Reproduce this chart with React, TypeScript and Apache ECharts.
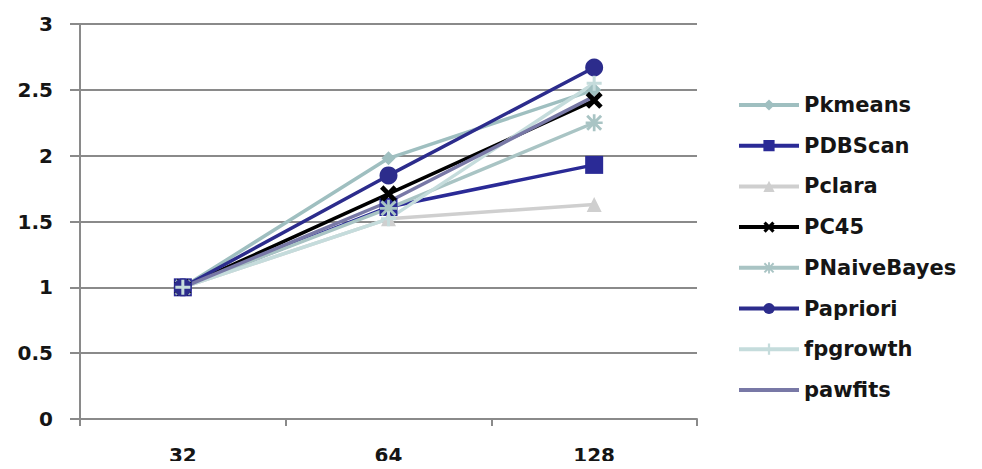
import React, { useEffect, useRef } from "react";
import * as echarts from "echarts";

const categories = ["32", "64", "128"];
const seriesNames = ["Pkmeans", "PDBScan", "Pclara", "PC45", "PNaiveBayes", "Papriori", "fpgrowth", "pawfits"];
const pkmeans = [1, 1.98, 2.5];
const pdbscan = [1, 1.61, 1.93];
const pclara = [1, 1.52, 1.63];
const pc45 = [1, 1.71, 2.42];
const pnaivebayes = [1, 1.6, 2.25];
const papriori = [1, 1.85, 2.67];
const fpgrowth = [1, 1.52, 2.55];
const pawfits = [1, 1.65, 2.45];
const yTicks = [0, 0.5, 1, 1.5, 2, 2.5, 3];

const X_PATH = "path://M2,0 L5,3 L8,0 L10,2 L7,5 L10,8 L8,10 L5,7 L2,10 L0,8 L3,5 L0,2 Z";
const PLUS_PATH = "path://M4,0H6V4H10V6H6V10H4V6H0V4H4Z";
const STAR_PATH =
  "path://M4.2,0H5.8V4.2H10V5.8H5.8V10H4.2V5.8H0V4.2H4.2Z M1.5,0.3 L5,3.8 L8.5,0.3 L9.7,1.5 L6.2,5 L9.7,8.5 L8.5,9.7 L5,6.2 L1.5,9.7 L0.3,8.5 L3.8,5 L0.3,1.5 Z";
const LINE_ICON = "path://M0,0H60V4H0Z";

const FONT = "DejaVu Sans";

export default function App() {
  const ref = useRef<HTMLDivElement>(null);
  useEffect(() => {
    if (!ref.current) return;
    const chart = echarts.init(ref.current, null, { renderer: "svg" });
    const mk = (name: string, data: number[], color: string, symbol: string, size: number, width = 3.5) => ({
      name,
      type: "line",
      data,
      symbol,
      symbolSize: size,
      showSymbol: symbol !== "none",
      lineStyle: { color, width },
      itemStyle: { color },
      z: 2,
    });
    chart.setOption({
      animation: false,
      backgroundColor: "#ffffff",
      textStyle: { fontFamily: FONT },
      grid: { left: 80, right: 285, top: 24, bottom: 50, containLabel: false },
      xAxis: {
        type: "category",
        data: categories,
        boundaryGap: true,
        axisLine: { show: true, lineStyle: { color: "#8a8a8a", width: 2 } },
        axisTick: { show: true, length: 7, lineStyle: { color: "#8a8a8a", width: 2 } },
        axisLabel: { color: "#151515", fontSize: 20, fontWeight: "bold", fontFamily: FONT, margin: 26 },
        splitLine: { show: false },
      },
      yAxis: {
        type: "value",
        min: yTicks[0],
        max: yTicks[yTicks.length - 1],
        interval: 0.5,
        axisLine: { show: true, lineStyle: { color: "#8a8a8a", width: 2 } },
        axisTick: { show: true, length: 10, lineStyle: { color: "#8a8a8a", width: 2 } },
        axisLabel: { color: "#151515", fontSize: 20, fontWeight: "bold", fontFamily: FONT, margin: 27 },
        splitLine: { show: true, lineStyle: { color: "#8a8a8a", width: 2 } },
      },
      legend: {
        orient: "vertical",
        left: 737,
        top: 94,
        padding: 0,
        itemWidth: 60,
        itemHeight: 14,
        itemGap: 18.7,
        lineStyle: { width: 4 },
        textStyle: { color: "#151515", fontSize: 21, fontWeight: "bold", lineHeight: 22, fontFamily: FONT, padding: [0, 0, 0, 0] },
        data: seriesNames.map((n, i) => (i === 7 ? { name: n, icon: LINE_ICON } : { name: n })),
      },
      series: [
        mk(seriesNames[0], pkmeans, "#9fbfc0", "diamond", 14),
        mk(seriesNames[1], pdbscan, "#2a2a96", "rect", 18),
        mk(seriesNames[2], pclara, "#cfcfcf", "triangle", 15),
        mk(seriesNames[3], pc45, "#000000", X_PATH, 17),
        mk(seriesNames[4], pnaivebayes, "#a9c4c4", STAR_PATH, 17),
        mk(seriesNames[5], papriori, "#2c2c8c", "circle", 18),
        mk(seriesNames[6], fpgrowth, "#c5dcdc", PLUS_PATH, 15),
        mk(seriesNames[7], pawfits, "#7878a6", "none", 0),
      ],
    });
    return () => chart.dispose();
  }, []);
  return <div ref={ref} style={{ width: 982, height: 469, margin: -8 }} />;
}
